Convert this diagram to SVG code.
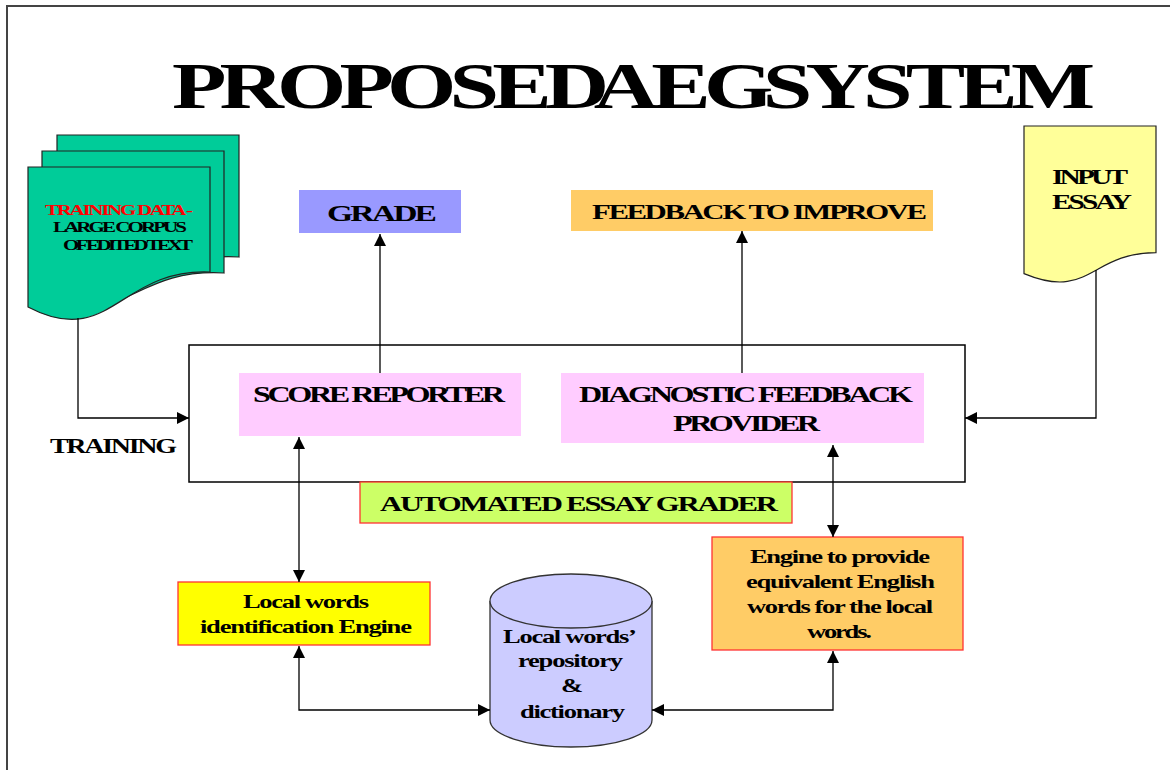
<svg xmlns="http://www.w3.org/2000/svg" width="1170" height="770" viewBox="0 0 1170 770">
<style>
  text { font-family: "Liberation Serif", "Times New Roman", serif; font-weight: bold; fill: #000; }
  .red { fill: #ff0000; }
  .ln { fill: none; stroke: #000; stroke-width: 1.3; }
  .doc { fill: #00cc99; stroke: #222; stroke-width: 1.2; }
  .redbox { stroke: #ff3333; stroke-width: 1.3; }
</style>
<defs>
  <marker id="arr" viewBox="0 0 12 12" refX="12" refY="6" markerWidth="12" markerHeight="12" markerUnits="userSpaceOnUse" orient="auto-start-reverse">
    <path d="M0,0 L12,6 L0,12 z" fill="#000"/>
  </marker>
</defs>
<rect width="1170" height="770" fill="#fff"/>
<path d="M7,770 V6 H1170" fill="none" stroke="#444" stroke-width="2"/>

<g id="title">
  <text transform="translate(172,108) scale(1.35,1)" font-size="66" textLength="683.7" lengthAdjust="spacing" style="word-spacing:-14px">PROPOSED AEG SYSTEM</text>
</g>

<g id="training-data">
  <path class="doc" d="M57,135 H239 V257 C150,252 140,310 57,290 Z"/>
  <path class="doc" d="M42,151 H224 V273 C135,268 125,326 42,306 Z"/>
  <path class="doc" d="M28,167 H210 V272 C120,268 110,350 28,307 Z"/>
  <text class="red" transform="translate(45,215) scale(1.4,1)" font-size="15" textLength="105.7" lengthAdjust="spacing">TRAINING DATA -</text>
  <text transform="translate(53,232) scale(1.4,1)" font-size="15" textLength="95.7" lengthAdjust="spacing">LARGE CORPUS</text>
  <text transform="translate(63,250) scale(1.4,1)" font-size="15" textLength="92.9" lengthAdjust="spacing">OF EDITED TEXT</text>
</g>

<g id="input-essay">
  <path d="M1024,126 H1156 V252.7 C1090,252.7 1090,301 1024,273.6 Z" fill="#ffff99" stroke="#222" stroke-width="1.2"/>
  <text transform="translate(1052,184) scale(1.4,1)" font-size="21" textLength="54.3" lengthAdjust="spacing">INPUT</text>
  <text transform="translate(1052,209) scale(1.4,1)" font-size="21" textLength="57.1" lengthAdjust="spacing">ESSAY</text>
</g>

<g id="grade">
  <rect x="299" y="190" width="162" height="43" fill="#9999ff"/>
  <text transform="translate(327,221) scale(1.4,1)" font-size="24" textLength="78.6" lengthAdjust="spacing">GRADE</text>
</g>

<g id="feedback">
  <rect x="571" y="190" width="362" height="41" fill="#ffcc66"/>
  <text transform="translate(592,219) scale(1.4,1)" font-size="22" textLength="239.3" lengthAdjust="spacing">FEEDBACK TO IMPROVE</text>
</g>

<g id="grader">
  <rect x="189" y="345" width="776" height="137" fill="none" stroke="#000" stroke-width="1.5"/>
</g>

<g id="score-reporter">
  <rect x="239" y="373" width="282" height="63" fill="#ffccff"/>
  <text transform="translate(253,402) scale(1.4,1)" font-size="23" textLength="180" lengthAdjust="spacing">SCORE REPORTER</text>
</g>

<g id="diagnostic">
  <rect x="561" y="373" width="363" height="70" fill="#ffccff"/>
  <text transform="translate(579,402) scale(1.4,1)" font-size="23" textLength="238.6" lengthAdjust="spacing">DIAGNOSTIC FEEDBACK</text>
  <text transform="translate(673,431) scale(1.4,1)" font-size="23" textLength="105" lengthAdjust="spacing">PROVIDER</text>
</g>

<g id="training-label">
  <text transform="translate(50,453) scale(1.4,1)" font-size="20" textLength="90.7" lengthAdjust="spacing">TRAINING</text>
</g>

<g id="aeg-label">
  <rect class="redbox" x="360" y="482" width="432" height="41" fill="#ccff66"/>
  <text transform="translate(380,511) scale(1.4,1)" font-size="22" textLength="284.3" lengthAdjust="spacing">AUTOMATED ESSAY GRADER</text>
</g>

<g id="local-id-engine">
  <rect class="redbox" x="178" y="582" width="252" height="63" fill="#ffff00"/>
  <text transform="translate(243,608) scale(1.4,1)" font-size="19" textLength="90" lengthAdjust="spacing">Local words</text>
  <text transform="translate(200,633) scale(1.4,1)" font-size="19" textLength="151.4" lengthAdjust="spacing">identification Engine</text>
</g>

<g id="repository">
  <path d="M490,601 V720 A81,27 0 0 0 652,720 V601" fill="#ccccff" stroke="#333" stroke-width="1.3"/>
  <ellipse cx="571" cy="601" rx="81" ry="27" fill="#ccccff" stroke="#333" stroke-width="1.3"/>
  <text transform="translate(503,643) scale(1.4,1)" font-size="19" textLength="95.7" lengthAdjust="spacing">Local words’</text>
  <text transform="translate(518,667) scale(1.4,1)" font-size="19" textLength="75" lengthAdjust="spacing">repository</text>
  <text transform="translate(561,692) scale(1.4,1)" font-size="19">&amp;</text>
  <text transform="translate(520,718) scale(1.4,1)" font-size="19" textLength="75" lengthAdjust="spacing">dictionary</text>
</g>

<g id="english-engine">
  <rect class="redbox" x="712" y="537" width="251" height="113" fill="#ffcc66"/>
  <text transform="translate(750,563) scale(1.4,1)" font-size="19" textLength="128.6" lengthAdjust="spacing">Engine to provide</text>
  <text transform="translate(746,588) scale(1.4,1)" font-size="19" textLength="135" lengthAdjust="spacing">equivalent English</text>
  <text transform="translate(747,613) scale(1.4,1)" font-size="19" textLength="132.9" lengthAdjust="spacing">words for the local</text>
  <text transform="translate(807,638) scale(1.4,1)" font-size="19" textLength="46.4" lengthAdjust="spacing">words.</text>
</g>

<g id="connectors">
  <path class="ln" d="M78,318 V418 H189" marker-end="url(#arr)"/>
  <path class="ln" d="M1096,270 V418 H965" marker-end="url(#arr)"/>
  <path class="ln" d="M380,373 V234" marker-end="url(#arr)"/>
  <path class="ln" d="M742,373 V231" marker-end="url(#arr)"/>
  <path class="ln" d="M299,437 V582" marker-start="url(#arr)" marker-end="url(#arr)"/>
  <path class="ln" d="M833,445 V537" marker-start="url(#arr)" marker-end="url(#arr)"/>
  <path class="ln" d="M299,646 V710 H490" marker-start="url(#arr)" marker-end="url(#arr)"/>
  <path class="ln" d="M833,651 V710 H652" marker-start="url(#arr)" marker-end="url(#arr)"/>
</g>
</svg>
